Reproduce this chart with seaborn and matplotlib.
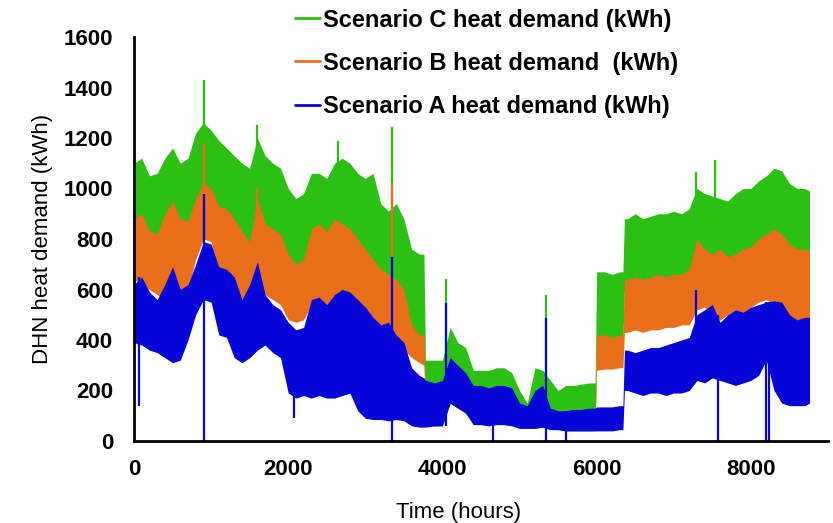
import pandas as pd
import numpy as np
import matplotlib
matplotlib.use('Agg')
import matplotlib.pyplot as plt
import seaborn as sns
from matplotlib.lines import Line2D

hours = [0, 100, 200, 300, 400, 500, 600, 700, 800, 900,
         1000, 1100, 1200, 1300, 1400, 1500, 1600, 1700, 1800, 1900,
         2000, 2100, 2200, 2300, 2400, 2500, 2600, 2700, 2800, 2900,
         3000, 3100, 3200, 3300, 3400, 3500, 3600, 3700, 3760, 3780,
         3900, 4000, 4100, 4200, 4300, 4400, 4500, 4600, 4700, 4800,
         4900, 5000, 5100, 5200, 5300, 5400, 5500, 5600, 5700, 5800,
         5900, 5980, 6000, 6100, 6200, 6300, 6340, 6360, 6400, 6500,
         6600, 6700, 6800, 6900, 7000, 7100, 7200, 7300, 7400, 7500,
         7600, 7700, 7800, 7900, 8000, 8100, 8200, 8300, 8400, 8500,
         8600, 8700, 8760]

a_hi = [620, 650, 590, 560, 620, 690, 600, 620, 700, 790,
        780, 690, 680, 650, 560, 620, 710, 580, 540, 520,
        470, 440, 450, 560, 570, 540, 580, 600, 590, 560,
        530, 490, 460, 470, 420, 390, 290, 260, 250, 240,
        230, 240, 330, 300, 270, 220, 220, 210, 220, 220,
        210, 150, 140, 200, 220, 130, 120, 120, 125, 125,
        130, 130, 135, 135, 135, 140, 140, 360, 360, 350,
        360, 370, 370, 380, 390, 400, 410, 500, 520, 540,
        470, 500, 520, 510, 530, 540, 550, 555, 550, 500,
        480, 490, 490]
a_lo = [390, 380, 360, 350, 330, 310, 320, 400, 500, 560,
        550, 420, 410, 330, 310, 330, 360, 380, 350, 330,
        190, 170, 180, 170, 180, 170, 170, 180, 190, 120,
        90, 85, 85, 80, 85, 80, 60, 55, 55, 55,
        60, 60, 150, 130, 110, 65, 65, 60, 65, 65,
        60, 50, 50, 50, 55, 45, 45, 40, 40, 40,
        40, 40, 40, 40, 40, 45, 45, 200, 200, 190,
        180, 190, 190, 180, 190, 190, 200, 240, 230, 250,
        240, 230, 220, 230, 240, 260, 320, 200, 150, 140,
        140, 140, 150]

b_hi = [880, 900, 830, 820, 900, 950, 880, 870, 960, 1020,
        1000, 930, 920, 880, 830, 790, 960, 860, 840, 820,
        740, 700, 720, 840, 860, 830, 880, 860, 840, 800,
        760, 720, 680, 660, 640, 600, 460, 420, 420, 230,
        220, 230, 320, 290, 260, 210, 210, 200, 210, 210,
        200, 140, 130, 190, 210, 120, 110, 110, 115, 115,
        120, 120, 420, 420, 410, 420, 420, 640, 640, 650,
        640, 650, 660, 650, 660, 660, 680, 800, 760, 740,
        760, 730, 740, 760, 770, 800, 820, 840, 820, 780,
        760, 760, 750]
b_lo = [640, 620, 600, 580, 560, 560, 570, 600, 720, 800,
        790, 650, 640, 600, 560, 580, 640, 580, 560, 540,
        480, 470, 480, 540, 540, 540, 560, 560, 560, 520,
        500, 470, 440, 420, 400, 360, 330, 310, 300, 100,
        80, 80, 150, 130, 120, 70, 70, 65, 70, 70,
        65, 55, 55, 55, 60, 50, 50, 45, 45, 45,
        45, 45, 280, 285, 285, 290, 290, 430, 430, 440,
        430, 440, 440, 450, 450, 460, 460, 520, 530, 490,
        480, 500, 520, 500, 530, 550, 560, 540, 520, 490,
        480, 480, 480]

c_hi = [1100, 1120, 1050, 1060, 1120, 1160, 1100, 1120, 1220, 1260,
        1230, 1190, 1160, 1130, 1100, 1080, 1200, 1130, 1100, 1080,
        1000, 960, 980, 1060, 1060, 1040, 1100, 1120, 1100, 1060,
        1040, 1060, 940, 910, 940, 880, 760, 740, 740, 320,
        320, 320, 450, 390, 370, 280, 280, 280, 290, 290,
        270, 200, 150, 290, 280, 240, 200, 220, 220, 225,
        230, 230, 670, 670, 660, 670, 670, 880, 880, 900,
        880, 890, 900, 900, 910, 900, 920, 1000, 980, 970,
        960, 950, 980, 1000, 1000, 1030, 1050, 1080, 1070, 1020,
        1000, 1000, 990]
c_lo = [820, 840, 770, 760, 840, 890, 820, 810, 900, 960,
        940, 870, 860, 820, 770, 730, 900, 800, 780, 760,
        680, 640, 660, 780, 800, 770, 820, 800, 780, 740,
        700, 660, 620, 600, 580, 540, 400, 360, 360, 60,
        60, 60, 150, 130, 120, 65, 65, 60, 65, 65,
        60, 50, 50, 50, 55, 45, 45, 40, 40, 40,
        40, 40, 400, 400, 390, 400, 400, 600, 600, 610,
        600, 610, 620, 610, 620, 620, 640, 760, 720, 700,
        720, 690, 700, 720, 730, 760, 780, 800, 780, 740,
        720, 720, 710]

# single-hour spikes (hour, from, to)
spike_a_hours = [60, 905, 2070, 3346, 4050, 4650, 5340, 5600, 7290, 7570, 8190, 8230]
spike_a_lo = [140, 0, 90, 0, 60, 0, 0, 0, 300, 0, 0, 0]
spike_a_hi = [650, 980, 300, 730, 546, 200, 487, 120, 600, 500, 550, 550]
spike_b_hours = [905, 1600, 3346]
spike_b_lo = [800, 800, 600]
spike_b_hi = [1180, 1000, 1022]
spike_c_hours = [908, 1600, 2650, 3346, 4050, 5340, 7290, 7535]
spike_c_lo = [1100, 1100, 1000, 900, 300, 250, 900, 900]
spike_c_hi = [1430, 1250, 1190, 1243, 640, 578, 1065, 1113]

labels = ['Scenario C heat demand (kWh)',
          'Scenario B heat demand  (kWh)',
          'Scenario A heat demand (kWh)']
x_ticks = [0, 2000, 4000, 6000, 8000]
y_ticks = [0, 200, 400, 600, 800, 1000, 1200, 1400, 1600]

colors = {'C': '#2CBF14', 'B': '#E96F1A', 'A': '#0505D8'}

sns.set_theme(style='white')
plt.rcParams['font.family'] = ['Liberation Sans', 'DejaVu Sans']
plt.rcParams['text.color'] = 'black'
plt.rcParams['axes.labelcolor'] = 'black'

# long-form table: each hour appears twice (low and high) so the band spans min..max
rows = []
for name, lo, hi in [('C', c_lo, c_hi), ('B', b_lo, b_hi), ('A', a_lo, a_hi)]:
    for h, l, u in zip(hours, lo, hi):
        rows.append((name, h, l))
        rows.append((name, h, u))
df = pd.DataFrame(rows, columns=['scenario', 'hour', 'demand'])

fig = plt.figure(figsize=(8.33, 5.23), dpi=100)
ax = fig.add_axes([134 / 833, 1 - 441 / 523, (828 - 134) / 833, (441 - 37) / 523])

sns.lineplot(data=df, x='hour', y='demand', hue='scenario', hue_order=['C', 'B', 'A'],
             palette=colors, errorbar=lambda v: (v.min(), v.max()),
             err_kws={'alpha': 1, 'linewidth': 0}, linewidth=0, legend=False, ax=ax)

ax.vlines(spike_c_hours, spike_c_lo, spike_c_hi, color=colors['C'], linewidth=1.6)
ax.vlines(spike_b_hours, spike_b_lo, spike_b_hi, color=colors['B'], linewidth=1.6)
ax.vlines(spike_a_hours, spike_a_lo, spike_a_hi, color=colors['A'], linewidth=1.6)

ax.set_xlim(0, 9000)
ax.set_ylim(0, 1600)
ax.set_xticks(x_ticks)
ax.set_xticklabels([str(t) for t in x_ticks], fontweight='bold')
ax.set_yticks(y_ticks)
ax.set_yticklabels([str(t) for t in y_ticks], fontweight='bold')
ax.tick_params(axis='both', length=0, labelsize=16, colors='black')
ax.tick_params(axis='y', pad=15)
ax.tick_params(axis='x', pad=13)

ax.set_xlabel('Time (hours)', fontsize=16)
ax.xaxis.set_label_coords(0.468, -0.152)
ax.set_ylabel('DHN heat demand (kWh)', fontsize=16, labelpad=8)

sns.despine(ax=ax)
for side in ['left', 'bottom']:
    ax.spines[side].set_color('black')
    ax.spines[side].set_linewidth(2)

handles = [Line2D([], [], color=colors[k], linewidth=2) for k in ['C', 'B', 'A']]
fig.legend(handles, labels, loc='upper left', bbox_to_anchor=(283 / 833, 1.006),
           frameon=False, prop={'weight': 'bold', 'size': 17},
           handlelength=1.05, handletextpad=0.13, labelspacing=0.85, borderpad=0)

fig.savefig('out.png', dpi=100)
